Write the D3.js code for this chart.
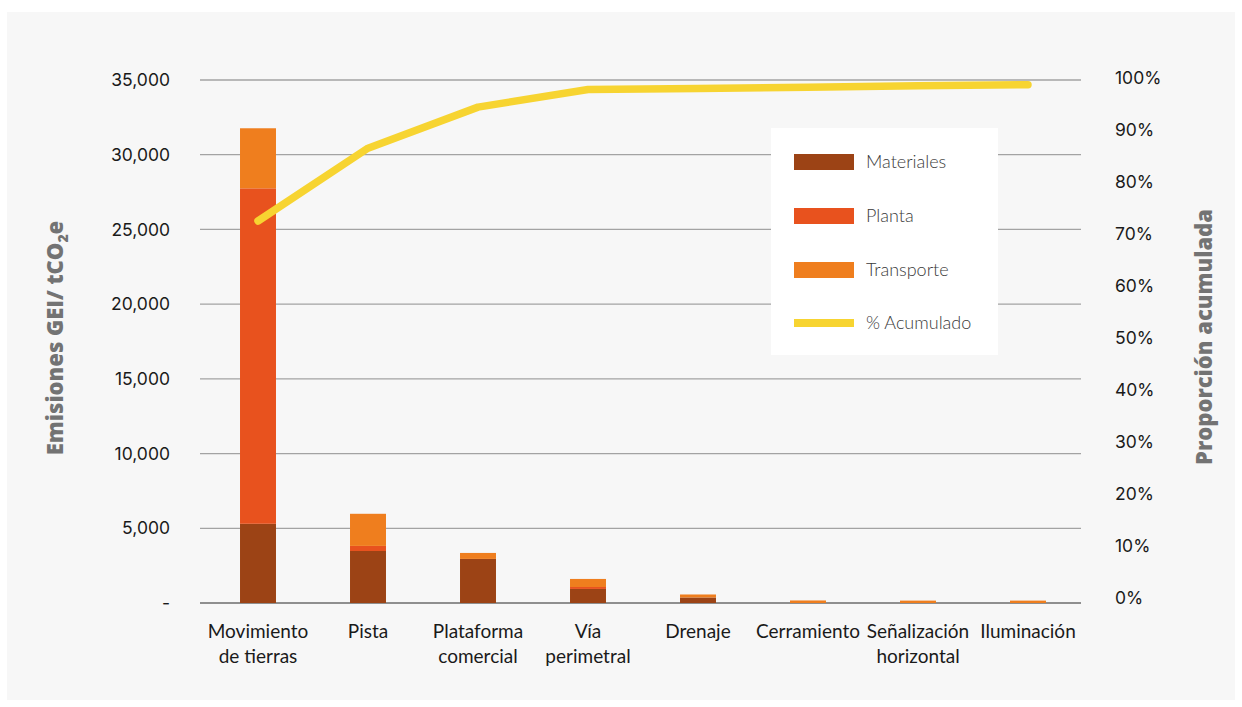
<!DOCTYPE html>
<html>
<head>
<meta charset="utf-8">
<script src="https://cdn.jsdelivr.net/npm/d3@7"></script>
<style>
  html, body { margin: 0; padding: 0; background: #ffffff; }
  svg { display: block; }
  .tick-label { font-family: "Inter", "Noto Sans", sans-serif; font-size: 17.5px; fill: #1a1a1a; }
  .cat-label { font-family: "Lato", "Noto Sans", sans-serif; font-size: 19px; fill: #1a1a1a; }
  .legend-label { font-family: "Lato", "Noto Sans", sans-serif; font-size: 18px; font-weight: 300; fill: #3a3a3a; }
  .axis-title { font-family: "Open Sans", "Noto Sans", sans-serif; font-size: 22px; font-weight: 800; fill: #737373; }
</style>
</head>
<body>
<svg id="chart" width="1242" height="707"></svg>
<script>
// Emission sources (categories), split into display lines
const categories = ["Movimiento de tierras", "Pista", "Plataforma comercial", "Vía perimetral",
                    "Drenaje", "Cerramiento", "Señalización horizontal", "Iluminación"];
const categoryLines = [["Movimiento", "de tierras"], ["Pista"], ["Plataforma", "comercial"], ["Vía", "perimetral"],
                       ["Drenaje"], ["Cerramiento"], ["Señalización", "horizontal"], ["Iluminación"]];

// GHG emissions per source, tCO2e
const materiales = [5300, 3480, 2950, 940, 370, 0, 0, 0];
const planta     = [22450, 340, 0, 130, 0, 0, 0, 0];
const transporte = [4020, 2150, 400, 540, 200, 170, 160, 160];

// Cumulative share, %
const acumulado = [72.5, 86.5, 94.4, 97.8, 98.0, 98.2, 98.5, 98.7];

// Axis ticks
const leftTicks = [0, 5000, 10000, 15000, 20000, 25000, 30000, 35000];
const rightTicks = [0, 10, 20, 30, 40, 50, 60, 70, 80, 90, 100];

const seriesNames = ["Materiales", "Planta", "Transporte"];
const colors = { "Materiales": "#9c4315", "Planta": "#e8521e", "Transporte": "#ef7e1e", "line": "#f7d431" };

const svg = d3.select("#chart");

// panel background
svg.append("rect").attr("x", 7).attr("y", 12).attr("width", 1228).attr("height", 688).attr("fill", "#f7f7f7");

const x = d3.scaleBand().domain(categories).range([203, 1083]).paddingInner(0.673).paddingOuter(0.3365);
const y = d3.scaleLinear().domain([0, 35000]).range([603, 80]);
const yR = d3.scaleLinear().domain([0, 100]).range([598, 78]);

// gridlines
svg.append("g").selectAll("line").data(leftTicks).join("line")
  .attr("x1", 200).attr("x2", 1081)
  .attr("y1", d => y(d)).attr("y2", d => y(d))
  .attr("stroke", d => d === 0 ? "#8f8f8f" : "#a3a3a3").attr("stroke-width", d => d === 0 ? 2 : 1.3);

// left tick labels
const fmt = d3.format(",");
svg.append("g").selectAll("text").data(leftTicks).join("text")
  .attr("class", "tick-label")
  .attr("x", 170).attr("y", d => y(d)).attr("dy", "0.35em")
  .attr("text-anchor", "end")
  .text(d => d === 0 ? "-" : fmt(d));

// right tick labels
svg.append("g").selectAll("text").data(rightTicks).join("text")
  .attr("class", "tick-label")
  .attr("x", 1115).attr("y", d => yR(d)).attr("dy", "0.35em")
  .attr("text-anchor", "start")
  .text(d => d + "%");

// stacked bars
const rows = categories.map((c, i) => ({ cat: c, Materiales: materiales[i], Planta: planta[i], Transporte: transporte[i] }));
const stacked = d3.stack().keys(seriesNames)(rows);
svg.append("g").selectAll("g").data(stacked).join("g")
  .attr("fill", s => colors[s.key])
  .selectAll("rect").data(s => s.filter(d => d[1] - d[0] > 0)).join("rect")
  .attr("x", d => x(d.data.cat))
  .attr("width", x.bandwidth())
  .attr("y", d => y(d[1]))
  .attr("height", d => y(d[0]) - y(d[1]));

// cumulative line
const line = d3.line()
  .x((d, i) => x(categories[i]) + x.bandwidth() / 2)
  .y(d => yR(d));
svg.append("path").datum(acumulado)
  .attr("d", line)
  .attr("fill", "none")
  .attr("stroke", colors.line)
  .attr("stroke-width", 7.5)
  .attr("stroke-linejoin", "round")
  .attr("stroke-linecap", "round");

// category labels
const catG = svg.append("g").selectAll("text").data(categories).join("text")
  .attr("class", "cat-label")
  .attr("text-anchor", "middle")
  .attr("x", d => x(d) + x.bandwidth() / 2)
  .attr("y", 638);
catG.selectAll("tspan").data((d, i) => categoryLines[i]).join("tspan")
  .attr("x", function () { return d3.select(this.parentNode).attr("x"); })
  .attr("dy", (d, j) => j === 0 ? 0 : 25)
  .text(d => d);

// axis titles
const lt = svg.append("text").attr("class", "axis-title")
  .attr("transform", "translate(63,338) rotate(-90)")
  .attr("text-anchor", "middle");
lt.append("tspan").text("Emisiones GEI/ tCO");
lt.append("tspan").attr("dy", 5).attr("font-size", "14px").text("2");
lt.append("tspan").attr("dy", -5).text("e");

svg.append("text").attr("class", "axis-title")
  .attr("transform", "translate(1212,337) rotate(-90)")
  .attr("text-anchor", "middle")
  .text("Proporción acumulada");

// legend
const lg = svg.append("g");
lg.append("rect").attr("x", 771).attr("y", 128).attr("width", 227).attr("height", 227).attr("fill", "#ffffff");
const legendItems = [
  { name: "Materiales", color: colors.Materiales, h: 16, cy: 162 },
  { name: "Planta", color: colors.Planta, h: 16, cy: 216 },
  { name: "Transporte", color: colors.Transporte, h: 16, cy: 270 },
  { name: "% Acumulado", color: colors.line, h: 8, cy: 323 }
];
lg.selectAll("rect.sw").data(legendItems).join("rect").attr("class", "sw")
  .attr("x", 794).attr("width", 60)
  .attr("y", d => d.cy - d.h / 2).attr("height", d => d.h)
  .attr("fill", d => d.color);
lg.selectAll("text").data(legendItems).join("text")
  .attr("class", "legend-label")
  .attr("x", 866).attr("y", d => d.cy).attr("dy", "0.35em")
  .text(d => d.name);
</script>
</body>
</html>
